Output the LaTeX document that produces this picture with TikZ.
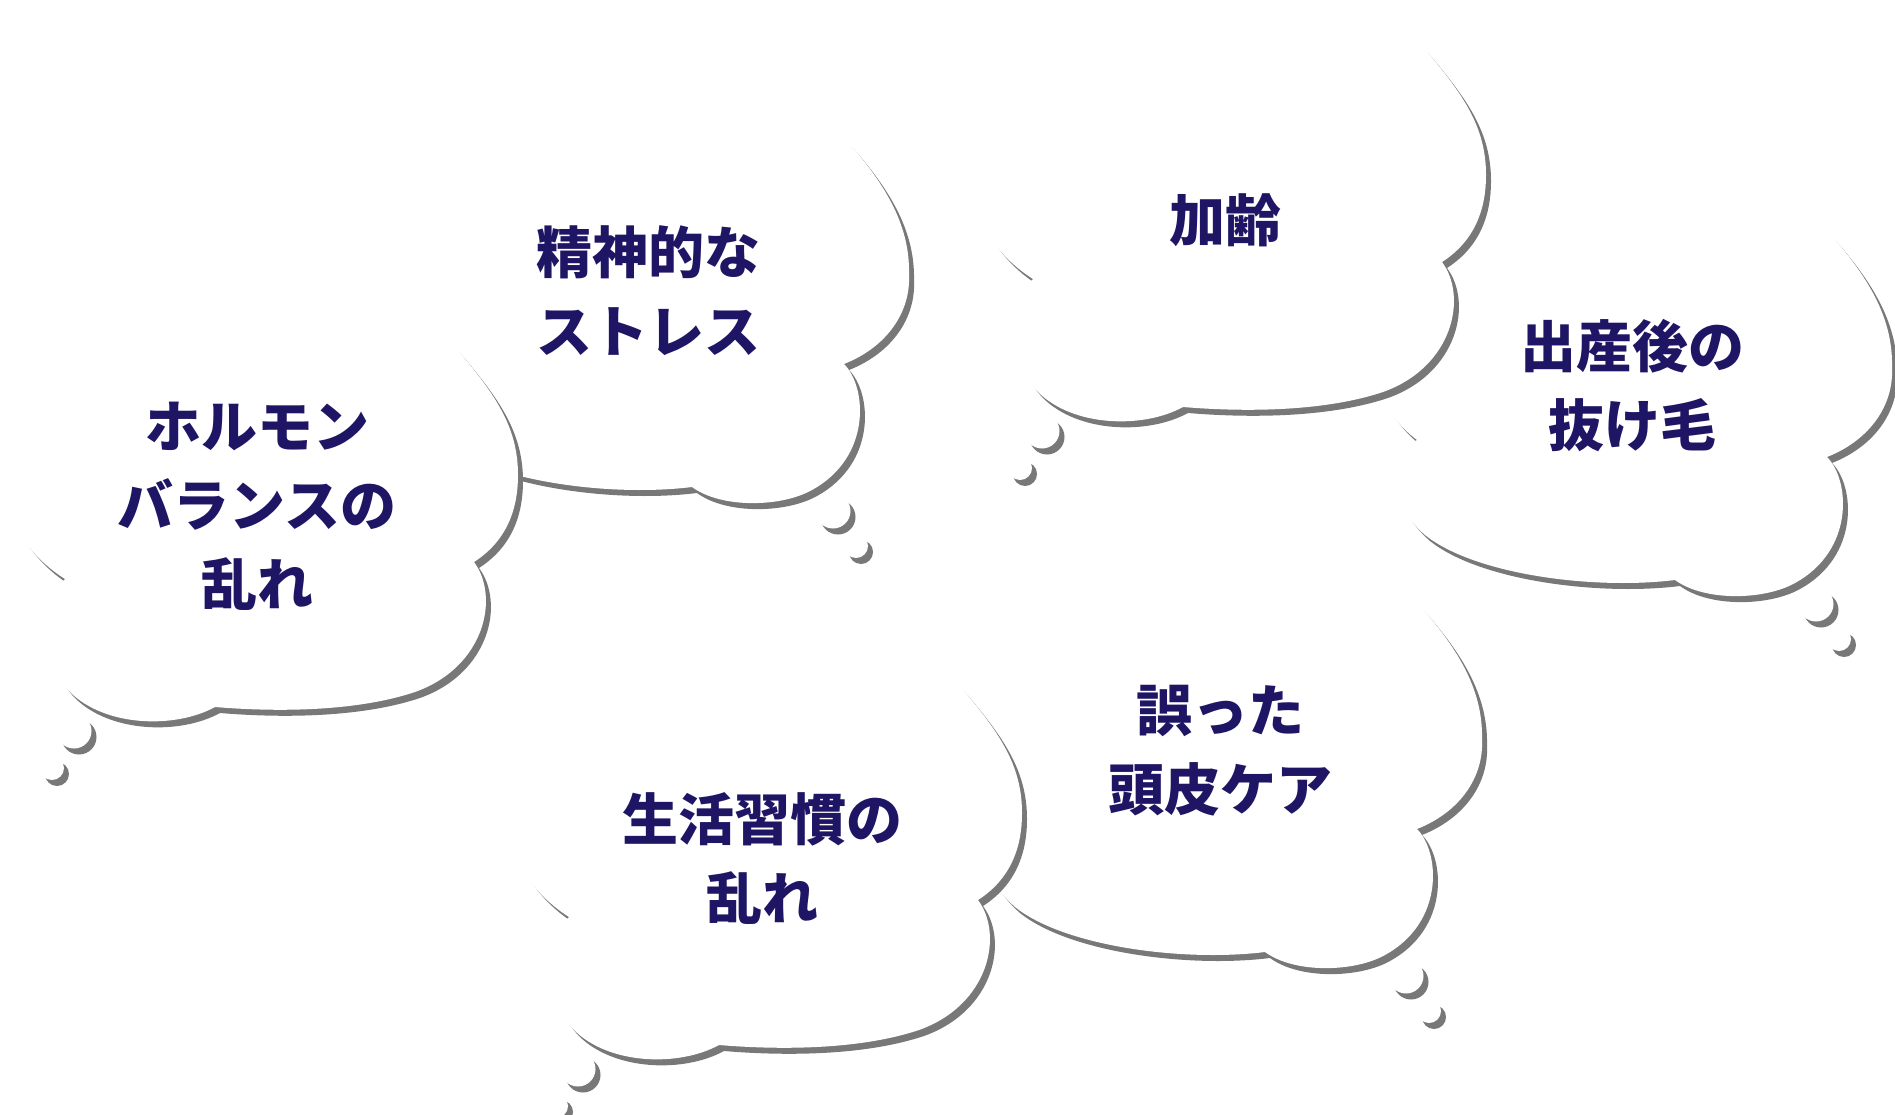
\documentclass[tikz,border=0pt]{standalone}
\usepackage{fontspec}
\newfontfamily\jpfont{Noto Sans CJK JP}
\definecolor{txtc}{RGB}{30,22,100}
\definecolor{shadowc}{RGB}{120,120,120}
% cloud type A (origin = lower cusp)
\newcommand\cloudApath{(152,-123)
 .. controls (175,-100) and (180,-30) .. (120,3)
 .. controls (90,20) and (30,22) .. (0,0)
 .. controls (-80,10) and (-200,-5) .. (-250,-45)
 .. controls (-290,-80) and (-290,-125) .. (-258,-140)
 .. controls (-285,-160) and (-305,-195) .. (-300,-225)
 .. controls (-295,-265) and (-275,-285) .. (-255,-290)
 .. controls (-265,-360) and (-100,-410) .. (-30,-355)
 .. controls (30,-400) and (120,-388) .. (162,-338)
 .. controls (195,-299) and (218,-260) .. (217,-213)
 .. controls (219,-175) and (195,-140) .. cycle}
% cloud type B (origin = lower cusp)
\newcommand\cloudBpath{(259,-145)
 .. controls (285,-110) and (270,-40) .. (200,-15)
 .. controls (140,5) and (60,5) .. (0,0)
 .. controls (-40,22) and (-110,20) .. (-145,-15)
 .. controls (-175,-45) and (-172,-105) .. (-150,-128)
 .. controls (-185,-150) and (-215,-190) .. (-210,-235)
 .. controls (-205,-270) and (-180,-290) .. (-150,-295)
 .. controls (-160,-360) and (-60,-420) .. (40,-370)
 .. controls (110,-415) and (205,-402) .. (246,-353)
 .. controls (280,-312) and (303,-280) .. (303,-232)
 .. controls (303,-195) and (290,-165) .. cycle}
\tikzset{
  shad/.style={fill=shadowc, shift={(5,6)}},
  cloudfill/.style={fill=white},
  lbl/.style={font=\jpfont\bfseries\fontsize{56}{79}\selectfont, text=txtc, align=center, inner sep=0pt}
}
\newcommand\cloudA[1]{%
  \begin{scope}[shift={#1}]
    \fill[shad] \cloudApath;
    \fill[shad] (141,24) circle (17.5pt);
    \fill[shad] (164,59) circle (12pt);
    \fill[cloudfill] \cloudApath;
    \fill[cloudfill] (141,24) circle (17.5pt);
    \fill[cloudfill] (164,59) circle (12pt);
  \end{scope}}
\newcommand\cloudB[1]{%
  \begin{scope}[shift={#1}]
    \fill[shad] \cloudBpath;
    \fill[shad] (-141,24) circle (17.5pt);
    \fill[shad] (-163,61) circle (12pt);
    \fill[cloudfill] \cloudBpath;
    \fill[cloudfill] (-141,24) circle (17.5pt);
    \fill[cloudfill] (-163,61) circle (12pt);
  \end{scope}}
\begin{document}
\begin{tikzpicture}[x=1pt,y=-1pt]
\useasboundingbox (0,0) rectangle (1895,1115);
\fill[white] (0,0) rectangle (1895,1115);
\cloudA{(692,487)}
\cloudB{(215,707)}
\cloudA{(1675,580)}
\cloudB{(1183,407)}
\cloudA{(1265,952)}
\cloudB{(719,1045)}
\node[lbl] (stress) at (648,291) {精神的な\\ストレス};
\node[lbl] (hormone) at (257,506) {ホルモン\\バランスの\\乱れ};
\node[lbl] (aging) at (1225,220) {加齢};
\node[lbl] (birth) at (1632,386) {出産後の\\抜け毛};
\node[lbl] (care) at (1220,751) {誤った\\頭皮ケア};
\node[lbl] (life) at (762,858) {生活習慣の\\乱れ};
\end{tikzpicture}
\end{document}
